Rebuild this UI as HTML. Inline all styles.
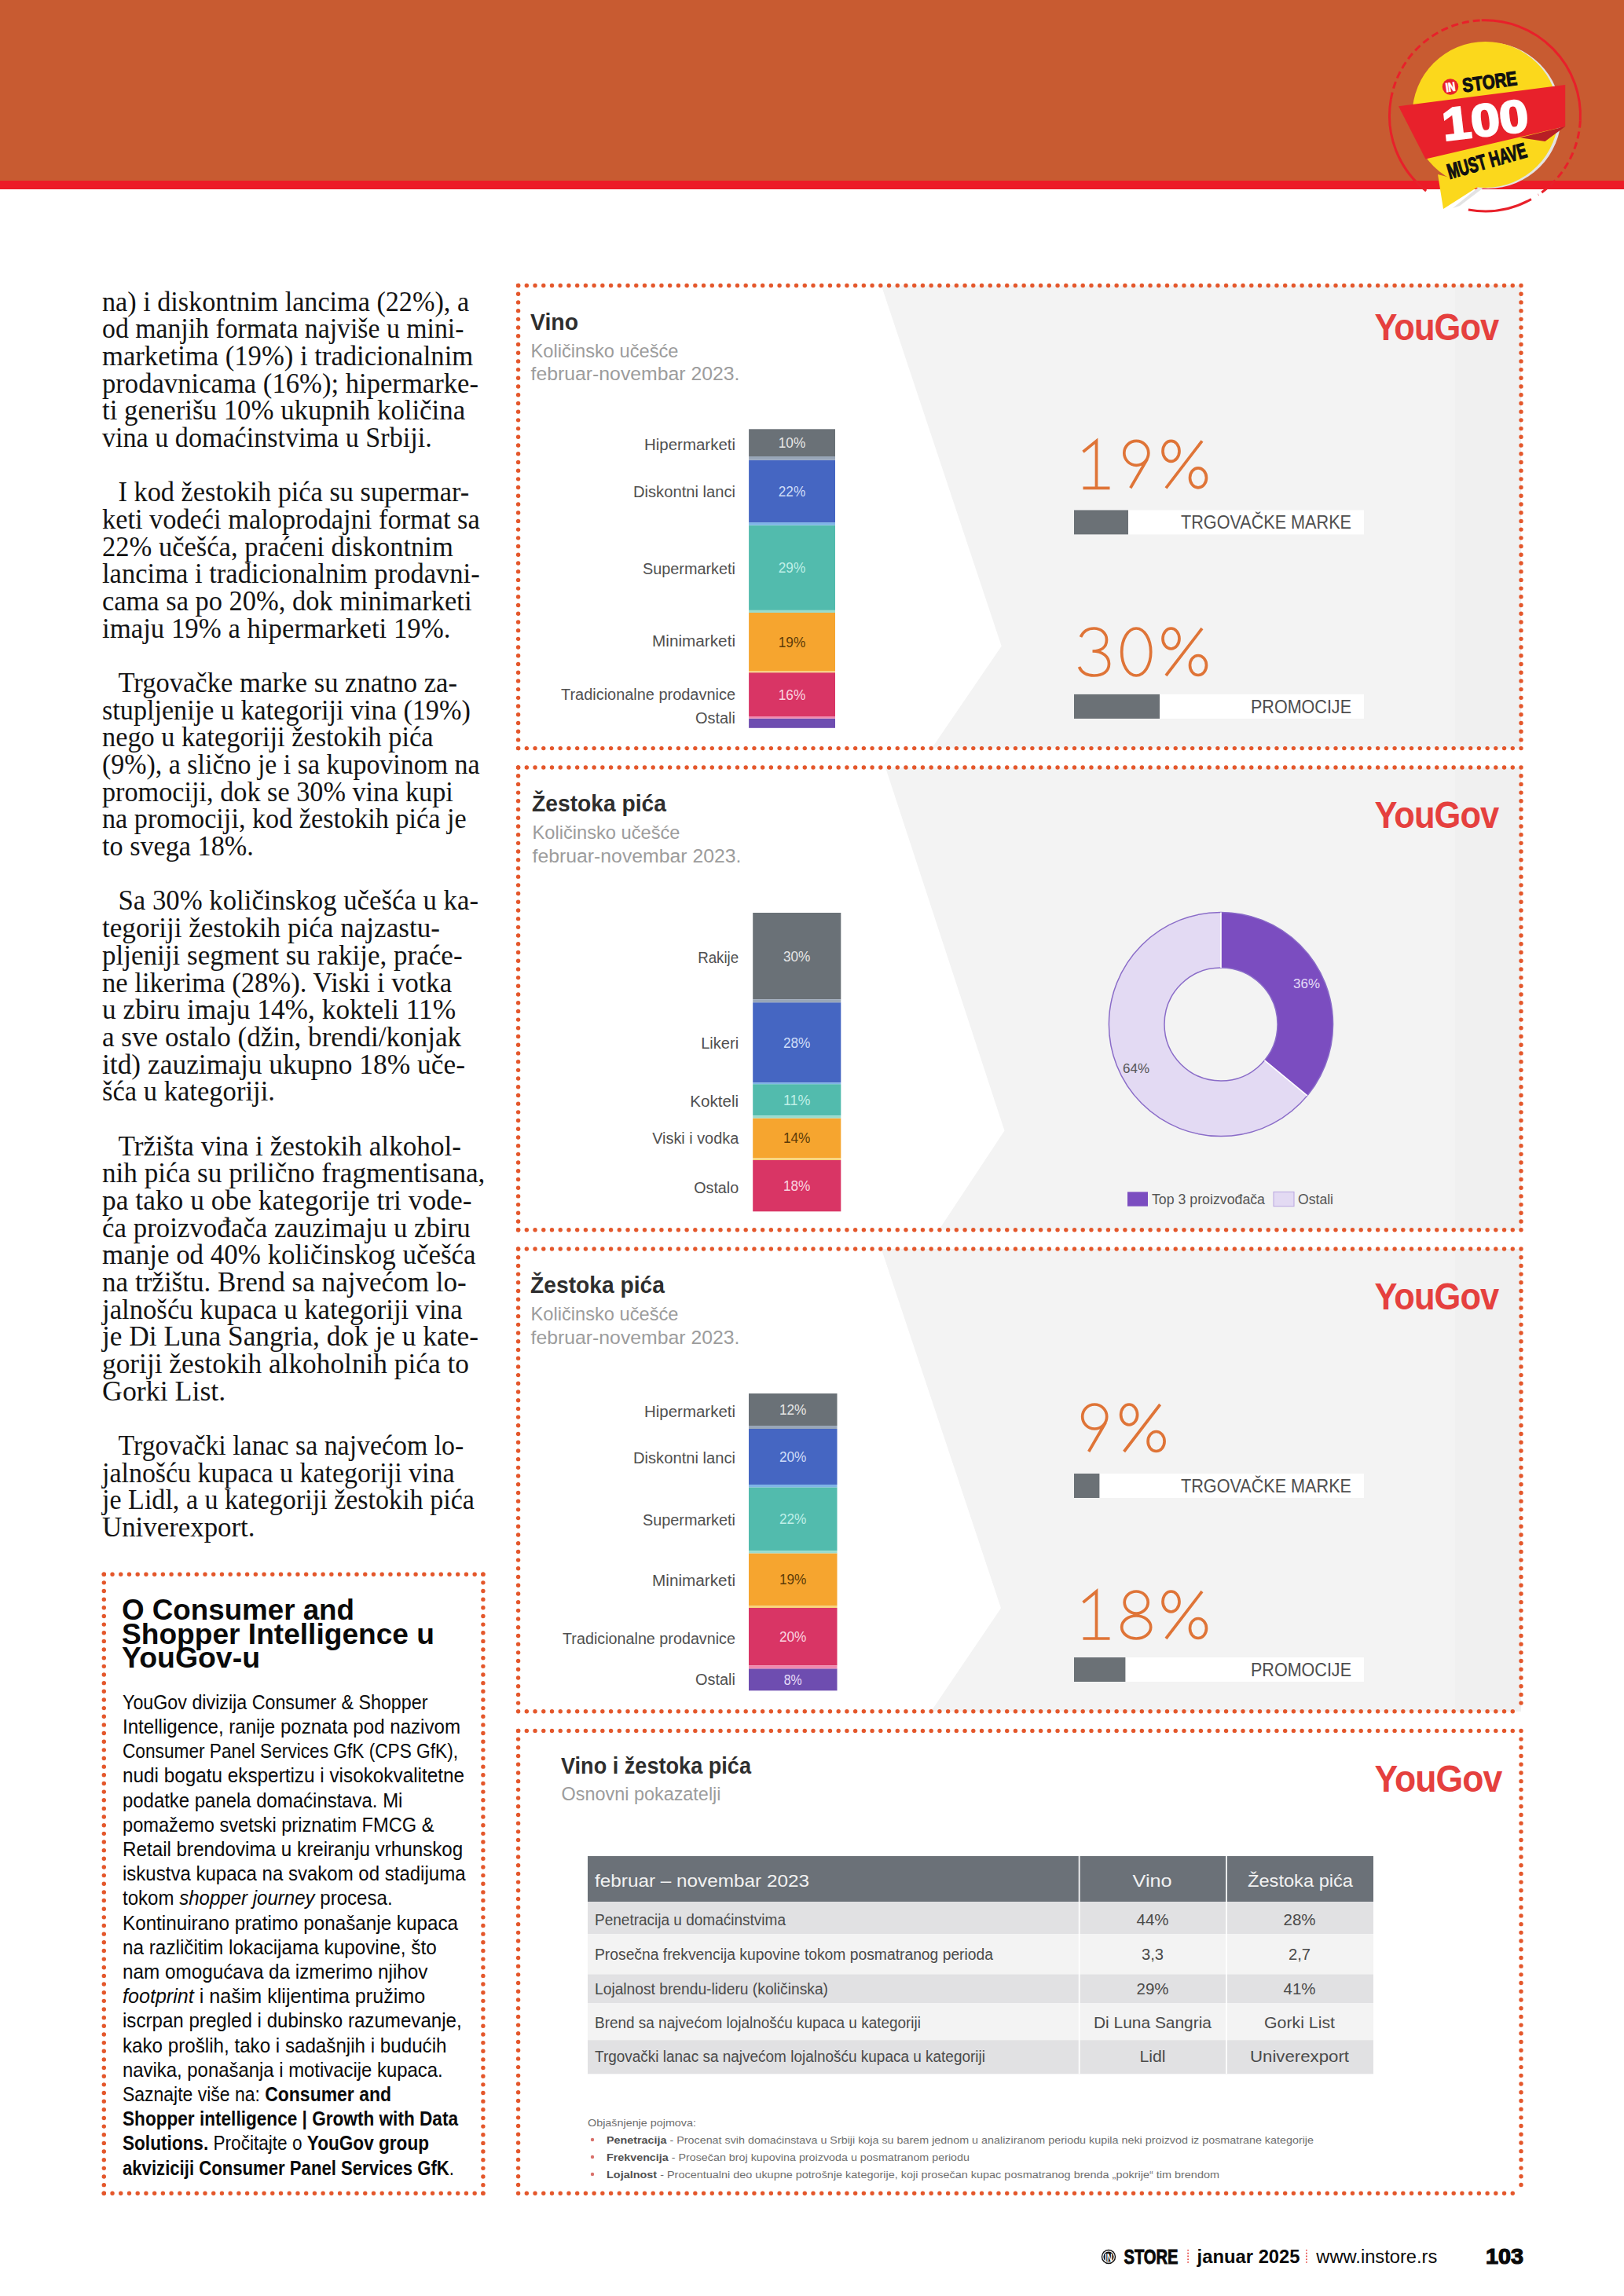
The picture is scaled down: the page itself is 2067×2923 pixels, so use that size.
<!DOCTYPE html>
<html><head><meta charset="utf-8"><title>instore 103</title>
<style>html,body{margin:0;padding:0;background:#fff;}svg{display:block;}</style></head><body>
<svg width="2067" height="2923" viewBox="0 0 2067 2923">
<rect width="2067" height="2923" fill="#FFFFFF"/>
<rect x="0" y="0" width="2067" height="230.5" fill="#C85B31"/>
<rect x="0" y="230" width="2067" height="11" fill="#EC1B27"/>
<path d="M1885.76 25.87A121.5 121.5 0 0 1 2011.33 153.66" stroke="#E8202A" stroke-width="3" fill="none"/>
<path d="M2011.33 153.66A121.5 121.5 0 0 1 1957.94 248.03" stroke="#E8202A" stroke-width="3" fill="none" stroke-dasharray="9 5"/>
<path d="M1948.90 253.57A121.5 121.5 0 0 1 1868.90 266.95" stroke="#E8202A" stroke-width="3" fill="none"/>
<path d="M1815.20 243.04A121.5 121.5 0 0 1 1770.35 126.20" stroke="#E8202A" stroke-width="3" fill="none"/>
<path d="M1770.35 126.20A121.5 121.5 0 0 1 1885.76 25.87" stroke="#E8202A" stroke-width="3" fill="none" stroke-dasharray="9 5"/>
<circle cx="1894" cy="147" r="93" fill="#E3E3E3"/>
<polygon points="1849,265 1881,239 1892,236 1858,262" fill="#E3E3E3"/>
<circle cx="1890.5" cy="146" r="93" fill="#FBD81C"/>
<polygon points="1830,222 1837,266 1884,236" fill="#FBD81C"/>
<polygon points="1780,135.3 1992.2,108 1992.2,160.9 1814.4,202.5" fill="#E8212B"/>
<polygon points="1934.5,175.3 1992.2,160.9 1966.5,180.1" fill="#B81E25"/>
<circle cx="1846" cy="110.5" r="10.2" fill="#E8212B"/>
<text x="1846" y="116.5" font-family="Liberation Sans" font-weight="bold" font-size="16" fill="#fff" stroke="#fff" stroke-width="0.8" text-anchor="middle" transform="rotate(-8 1846 110.5)" textLength="12.5" lengthAdjust="spacingAndGlyphs">IN</text>
<text x="0" y="0" font-family="Liberation Sans" font-weight="bold" font-size="25" fill="#111" stroke="#111" stroke-width="1.2" transform="translate(1862.5 117.5) rotate(-7.8)" textLength="70" lengthAdjust="spacingAndGlyphs">STORE</text>
<text x="0" y="0" font-family="Liberation Sans" font-weight="bold" font-size="58" fill="#fff" stroke="#fff" stroke-width="2.5" transform="translate(1838 179) rotate(-6.7)" textLength="110" lengthAdjust="spacingAndGlyphs">100</text>
<text x="0" y="0" font-family="Liberation Sans" font-weight="bold" font-size="27" fill="#111" stroke="#111" stroke-width="1.3" transform="translate(1845 228) rotate(-15.9)" textLength="104" lengthAdjust="spacingAndGlyphs">MUST HAVE</text>
<polygon points="1121.8,363.5 1936,363.5 1936,952.6 1186,952.6 1274.7,822.6" fill="#F3F3F3"/>
<rect x="1852" y="363.5" width="84" height="589.1" fill="#F0F0F0"/>
<polygon points="1127,977.0 1936,977.0 1936,1565.7 1195,1565.7 1278.5,1439.5" fill="#F3F3F3"/>
<rect x="1852" y="977.0" width="84" height="588.7" fill="#F0F0F0"/>
<polygon points="1121.8,1590.0 1936,1590.0 1936,2178.8 1185,2178.8 1274,2047.2" fill="#F3F3F3"/>
<rect x="1852" y="1590.0" width="84" height="588.8" fill="#F0F0F0"/>
<text x="675.0" y="419.7" font-family="Liberation Sans" font-size="30" fill="#2E2E2E" font-weight="bold" textLength="61.0" lengthAdjust="spacingAndGlyphs">Vino</text>
<text x="675.5" y="454.8" font-family="Liberation Sans" font-size="24.5" fill="#9C9C9C" textLength="188.0" lengthAdjust="spacingAndGlyphs">Količinsko učešće</text>
<text x="675.5" y="484.4" font-family="Liberation Sans" font-size="24.5" fill="#9C9C9C" textLength="266.0" lengthAdjust="spacingAndGlyphs">februar-novembar 2023.</text>
<text x="1749.4" y="433.2" font-family="Liberation Sans" font-size="49" fill="#E5403E" font-weight="bold" textLength="158.0" lengthAdjust="spacingAndGlyphs" letter-spacing="-1">YouGov</text>
<rect x="953.1" y="546.3" width="109.9" height="34.7" fill="#6A7177"/>
<rect x="953.1" y="585.6" width="109.9" height="79.5" fill="#4566C2"/>
<rect x="953.1" y="668.6" width="109.9" height="108.3" fill="#52BBAD"/>
<rect x="953.1" y="780.0" width="109.9" height="74.5" fill="#F6A52F"/>
<rect x="953.1" y="856.2" width="109.9" height="55.8" fill="#D93565"/>
<rect x="953.1" y="914.6" width="109.9" height="12.2" fill="#6E4DB0"/>
<rect x="953.1" y="581.0" width="109.9" height="4.6" fill="#98A6B8"/>
<rect x="953.1" y="665.1" width="109.9" height="3.5" fill="#7FB4E6"/>
<rect x="953.1" y="776.9" width="109.9" height="3.1" fill="#9ADCCD"/>
<rect x="953.1" y="854.5" width="109.9" height="1.7" fill="#F8D27A"/>
<rect x="953.1" y="912.0" width="109.9" height="2.6" fill="#F08AB0"/>
<text x="936.0" y="573.0" font-family="Liberation Sans" font-size="19.5" fill="#505050" text-anchor="end" textLength="116.0" lengthAdjust="spacingAndGlyphs">Hipermarketi</text>
<text x="1008.0" y="570.1" font-family="Liberation Sans" font-size="18" fill="#E6E6E6" text-anchor="middle" textLength="34.5" lengthAdjust="spacingAndGlyphs">10%</text>
<text x="936.0" y="633.0" font-family="Liberation Sans" font-size="19.5" fill="#505050" text-anchor="end" textLength="130.0" lengthAdjust="spacingAndGlyphs">Diskontni lanci</text>
<text x="1008.0" y="631.9" font-family="Liberation Sans" font-size="18" fill="#CFDDF8" text-anchor="middle" textLength="34.5" lengthAdjust="spacingAndGlyphs">22%</text>
<text x="936.0" y="731.2" font-family="Liberation Sans" font-size="19.5" fill="#505050" text-anchor="end" textLength="118.0" lengthAdjust="spacingAndGlyphs">Supermarketi</text>
<text x="1008.0" y="729.2" font-family="Liberation Sans" font-size="18" fill="#BFEFE8" text-anchor="middle" textLength="34.5" lengthAdjust="spacingAndGlyphs">29%</text>
<text x="936.0" y="823.3" font-family="Liberation Sans" font-size="19.5" fill="#505050" text-anchor="end" textLength="106.0" lengthAdjust="spacingAndGlyphs">Minimarketi</text>
<text x="1008.0" y="823.8" font-family="Liberation Sans" font-size="18" fill="#5C3B08" text-anchor="middle" textLength="34.5" lengthAdjust="spacingAndGlyphs">19%</text>
<text x="936.0" y="891.3" font-family="Liberation Sans" font-size="19.5" fill="#505050" text-anchor="end" textLength="222.0" lengthAdjust="spacingAndGlyphs">Tradicionalne prodavnice</text>
<text x="1008.0" y="890.6" font-family="Liberation Sans" font-size="18" fill="#FAD4E0" text-anchor="middle" textLength="34.5" lengthAdjust="spacingAndGlyphs">16%</text>
<text x="936.0" y="921.3" font-family="Liberation Sans" font-size="19.5" fill="#505050" text-anchor="end" textLength="51.0" lengthAdjust="spacingAndGlyphs">Ostali</text>
<path d="M0 -46L17 -60L17 0M0 0L34 0" transform="translate(1378.5 621.3)" fill="none" stroke="#DF7437" stroke-width="3.7" stroke-linecap="butt"/>
<path d="M0 -44.5A15.5 15.5 0 1 0 31 -44.5A15.5 15.5 0 1 0 0 -44.5M29.5 -37L8 0" transform="translate(1430.8 621.3)" fill="none" stroke="#DF7437" stroke-width="3.7" stroke-linecap="butt"/>
<path d="M0 -47A10.5 13 0 1 0 21 -47A10.5 13 0 1 0 0 -47M50 -60L4 0M34.5 -13A10.5 12.5 0 1 0 55.5 -13A10.5 12.5 0 1 0 34.5 -13" transform="translate(1480 621.3)" fill="none" stroke="#DF7437" stroke-width="3.7" stroke-linecap="butt"/>
<rect x="1367" y="649.4" width="369" height="31" fill="#FFFFFF"/>
<rect x="1367" y="649.4" width="69.0" height="31" fill="#6B7176"/>
<text x="1720.0" y="673.4" font-family="Liberation Sans" font-size="23.5" fill="#4E4E4E" text-anchor="end" textLength="217.0" lengthAdjust="spacingAndGlyphs">TRGOVAČKE MARKE</text>
<path d="M2 -49C5 -56 11 -60 19 -60C28 -60 35 -54 35 -45.5C35 -36 28 -31 17 -31M17 -31C30 -31 38 -24 38 -15C38 -5 30 0 19 0C10 0 3 -4 0 -11" transform="translate(1373.5 860)" fill="none" stroke="#DF7437" stroke-width="3.7" stroke-linecap="butt"/>
<path d="M0 -30A18.5 30 0 1 0 37 -30A18.5 30 0 1 0 0 -30" transform="translate(1427.7 860)" fill="none" stroke="#DF7437" stroke-width="3.7" stroke-linecap="butt"/>
<path d="M0 -47A10.5 13 0 1 0 21 -47A10.5 13 0 1 0 0 -47M50 -60L4 0M34.5 -13A10.5 12.5 0 1 0 55.5 -13A10.5 12.5 0 1 0 34.5 -13" transform="translate(1480 860)" fill="none" stroke="#DF7437" stroke-width="3.7" stroke-linecap="butt"/>
<rect x="1367" y="883.9" width="369" height="31" fill="#FFFFFF"/>
<rect x="1367" y="883.9" width="109.0" height="31" fill="#6B7176"/>
<text x="1720.0" y="907.9" font-family="Liberation Sans" font-size="23.5" fill="#4E4E4E" text-anchor="end" textLength="128.0" lengthAdjust="spacingAndGlyphs">PROMOCIJE</text>
<text x="677.0" y="1033.2" font-family="Liberation Sans" font-size="30" fill="#2E2E2E" font-weight="bold" textLength="171.0" lengthAdjust="spacingAndGlyphs">Žestoka pića</text>
<text x="677.5" y="1068.3" font-family="Liberation Sans" font-size="24.5" fill="#9C9C9C" textLength="188.0" lengthAdjust="spacingAndGlyphs">Količinsko učešće</text>
<text x="677.5" y="1097.9" font-family="Liberation Sans" font-size="24.5" fill="#9C9C9C" textLength="266.0" lengthAdjust="spacingAndGlyphs">februar-novembar 2023.</text>
<text x="1749.4" y="1053.6" font-family="Liberation Sans" font-size="49" fill="#E5403E" font-weight="bold" textLength="158.0" lengthAdjust="spacingAndGlyphs" letter-spacing="-1">YouGov</text>
<rect x="958.2" y="1162.0" width="112.1" height="110.2" fill="#6A7177"/>
<rect x="958.2" y="1276.2" width="112.1" height="102.0" fill="#4566C2"/>
<rect x="958.2" y="1380.2" width="112.1" height="40.1" fill="#52BBAD"/>
<rect x="958.2" y="1423.5" width="112.1" height="50.8" fill="#F6A52F"/>
<rect x="958.2" y="1477.0" width="112.1" height="65.3" fill="#D93565"/>
<rect x="958.2" y="1272.2" width="112.1" height="4.0" fill="#98A6B8"/>
<rect x="958.2" y="1378.2" width="112.1" height="2.0" fill="#7FB4E6"/>
<rect x="958.2" y="1420.3" width="112.1" height="3.2" fill="#9ADCCD"/>
<rect x="958.2" y="1474.3" width="112.1" height="2.7" fill="#F8D27A"/>
<text x="940.2" y="1226.4" font-family="Liberation Sans" font-size="19.5" fill="#505050" text-anchor="end" textLength="52.0" lengthAdjust="spacingAndGlyphs">Rakije</text>
<text x="1014.2" y="1223.6" font-family="Liberation Sans" font-size="18" fill="#E6E6E6" text-anchor="middle" textLength="34.5" lengthAdjust="spacingAndGlyphs">30%</text>
<text x="940.2" y="1335.2" font-family="Liberation Sans" font-size="19.5" fill="#505050" text-anchor="end" textLength="48.0" lengthAdjust="spacingAndGlyphs">Likeri</text>
<text x="1014.2" y="1333.7" font-family="Liberation Sans" font-size="18" fill="#CFDDF8" text-anchor="middle" textLength="34.5" lengthAdjust="spacingAndGlyphs">28%</text>
<text x="940.2" y="1409.3" font-family="Liberation Sans" font-size="19.5" fill="#505050" text-anchor="end" textLength="62.0" lengthAdjust="spacingAndGlyphs">Kokteli</text>
<text x="1014.2" y="1406.8" font-family="Liberation Sans" font-size="18" fill="#BFEFE8" text-anchor="middle" textLength="34.5" lengthAdjust="spacingAndGlyphs">11%</text>
<text x="940.2" y="1456.0" font-family="Liberation Sans" font-size="19.5" fill="#505050" text-anchor="end" textLength="110.0" lengthAdjust="spacingAndGlyphs">Viski i vodka</text>
<text x="1014.2" y="1455.4" font-family="Liberation Sans" font-size="18" fill="#5C3B08" text-anchor="middle" textLength="34.5" lengthAdjust="spacingAndGlyphs">14%</text>
<text x="940.2" y="1518.5" font-family="Liberation Sans" font-size="19.5" fill="#505050" text-anchor="end" textLength="57.0" lengthAdjust="spacingAndGlyphs">Ostalo</text>
<text x="1014.2" y="1516.2" font-family="Liberation Sans" font-size="18" fill="#FAD4E0" text-anchor="middle" textLength="34.5" lengthAdjust="spacingAndGlyphs">18%</text>
<circle cx="1554" cy="1304" r="107.3" fill="none" stroke="#E3DAF3" stroke-width="70.6"/>
<path d="M1554.00 1161.40A142.6 142.6 0 0 1 1663.88 1394.90L1609.48 1349.89A72 72 0 0 0 1554.00 1232.00Z" fill="#7B4DC0"/>
<circle cx="1554" cy="1304" r="142.6" fill="none" stroke="#8A6CC8" stroke-width="1.5"/>
<circle cx="1554" cy="1304" r="72" fill="#F3F3F3" stroke="#8A6CC8" stroke-width="1.5"/>
<path d="M1554.00 1232.00L1554.00 1161.40M1609.48 1349.89L1663.88 1394.90" stroke="#FFFFFF" stroke-width="1.6"/>
<text x="1663.0" y="1258.0" font-family="Liberation Sans" font-size="16" fill="#E6DDF8" text-anchor="middle" textLength="34.0" lengthAdjust="spacingAndGlyphs">36%</text>
<text x="1446.0" y="1366.0" font-family="Liberation Sans" font-size="16" fill="#555" text-anchor="middle" textLength="34.0" lengthAdjust="spacingAndGlyphs">64%</text>
<rect x="1435" y="1517.4" width="26" height="18.3" fill="#7B4DC0"/>
<text x="1466.0" y="1533.0" font-family="Liberation Sans" font-size="17.5" fill="#555" textLength="144.0" lengthAdjust="spacingAndGlyphs">Top 3 proizvođača</text>
<rect x="1621" y="1517.4" width="26" height="18.3" fill="#E3DAF3" stroke="#B9A6E0" stroke-width="1"/>
<text x="1652.0" y="1533.0" font-family="Liberation Sans" font-size="17.5" fill="#555" textLength="45.0" lengthAdjust="spacingAndGlyphs">Ostali</text>
<text x="675.0" y="1646.2" font-family="Liberation Sans" font-size="30" fill="#2E2E2E" font-weight="bold" textLength="171.0" lengthAdjust="spacingAndGlyphs">Žestoka pića</text>
<text x="675.5" y="1681.3" font-family="Liberation Sans" font-size="24.5" fill="#9C9C9C" textLength="188.0" lengthAdjust="spacingAndGlyphs">Količinsko učešće</text>
<text x="675.5" y="1710.9" font-family="Liberation Sans" font-size="24.5" fill="#9C9C9C" textLength="266.0" lengthAdjust="spacingAndGlyphs">februar-novembar 2023.</text>
<text x="1749.4" y="1666.6" font-family="Liberation Sans" font-size="49" fill="#E5403E" font-weight="bold" textLength="158.0" lengthAdjust="spacingAndGlyphs" letter-spacing="-1">YouGov</text>
<rect x="953.0" y="1774.0" width="112.5" height="41.0" fill="#6A7177"/>
<rect x="953.0" y="1819.0" width="112.5" height="71.0" fill="#4566C2"/>
<rect x="953.0" y="1893.4" width="112.5" height="80.8" fill="#52BBAD"/>
<rect x="953.0" y="1977.4" width="112.5" height="66.9" fill="#F6A52F"/>
<rect x="953.0" y="2047.0" width="112.5" height="73.3" fill="#D93565"/>
<rect x="953.0" y="2124.3" width="112.5" height="28.0" fill="#6E4DB0"/>
<rect x="953.0" y="1815.0" width="112.5" height="4.0" fill="#98A6B8"/>
<rect x="953.0" y="1890.0" width="112.5" height="3.4" fill="#7FB4E6"/>
<rect x="953.0" y="1974.2" width="112.5" height="3.2" fill="#9ADCCD"/>
<rect x="953.0" y="2044.3" width="112.5" height="2.7" fill="#F8D27A"/>
<rect x="953.0" y="2120.3" width="112.5" height="4.0" fill="#F08AB0"/>
<text x="936.0" y="1804.3" font-family="Liberation Sans" font-size="19.5" fill="#505050" text-anchor="end" textLength="116.0" lengthAdjust="spacingAndGlyphs">Hipermarketi</text>
<text x="1009.2" y="1801.0" font-family="Liberation Sans" font-size="18" fill="#E6E6E6" text-anchor="middle" textLength="34.5" lengthAdjust="spacingAndGlyphs">12%</text>
<text x="936.0" y="1863.2" font-family="Liberation Sans" font-size="19.5" fill="#505050" text-anchor="end" textLength="130.0" lengthAdjust="spacingAndGlyphs">Diskontni lanci</text>
<text x="1009.2" y="1861.0" font-family="Liberation Sans" font-size="18" fill="#CFDDF8" text-anchor="middle" textLength="34.5" lengthAdjust="spacingAndGlyphs">20%</text>
<text x="936.0" y="1942.0" font-family="Liberation Sans" font-size="19.5" fill="#505050" text-anchor="end" textLength="118.0" lengthAdjust="spacingAndGlyphs">Supermarketi</text>
<text x="1009.2" y="1940.3" font-family="Liberation Sans" font-size="18" fill="#BFEFE8" text-anchor="middle" textLength="34.5" lengthAdjust="spacingAndGlyphs">22%</text>
<text x="936.0" y="2019.3" font-family="Liberation Sans" font-size="19.5" fill="#505050" text-anchor="end" textLength="106.0" lengthAdjust="spacingAndGlyphs">Minimarketi</text>
<text x="1009.2" y="2017.3" font-family="Liberation Sans" font-size="18" fill="#5C3B08" text-anchor="middle" textLength="34.5" lengthAdjust="spacingAndGlyphs">19%</text>
<text x="936.0" y="2093.3" font-family="Liberation Sans" font-size="19.5" fill="#505050" text-anchor="end" textLength="220.0" lengthAdjust="spacingAndGlyphs">Tradicionalne prodavnice</text>
<text x="1009.2" y="2090.2" font-family="Liberation Sans" font-size="18" fill="#FAD4E0" text-anchor="middle" textLength="34.5" lengthAdjust="spacingAndGlyphs">20%</text>
<text x="936.0" y="2145.3" font-family="Liberation Sans" font-size="19.5" fill="#505050" text-anchor="end" textLength="51.0" lengthAdjust="spacingAndGlyphs">Ostali</text>
<text x="1009.2" y="2144.8" font-family="Liberation Sans" font-size="18" fill="#E6DDF8" text-anchor="middle" textLength="23.0" lengthAdjust="spacingAndGlyphs">8%</text>
<path d="M0 -44.5A15.5 15.5 0 1 0 31 -44.5A15.5 15.5 0 1 0 0 -44.5M29.5 -37L8 0" transform="translate(1377.7 1848)" fill="none" stroke="#DF7437" stroke-width="3.7" stroke-linecap="butt"/>
<path d="M0 -47A10.5 13 0 1 0 21 -47A10.5 13 0 1 0 0 -47M50 -60L4 0M34.5 -13A10.5 12.5 0 1 0 55.5 -13A10.5 12.5 0 1 0 34.5 -13" transform="translate(1426.6 1848)" fill="none" stroke="#DF7437" stroke-width="3.7" stroke-linecap="butt"/>
<rect x="1367" y="1876.0" width="369" height="31" fill="#FFFFFF"/>
<rect x="1367" y="1876.0" width="32.4" height="31" fill="#6B7176"/>
<text x="1720.0" y="1900.0" font-family="Liberation Sans" font-size="23.5" fill="#4E4E4E" text-anchor="end" textLength="217.0" lengthAdjust="spacingAndGlyphs">TRGOVAČKE MARKE</text>
<path d="M0 -46L17 -60L17 0M0 0L34 0" transform="translate(1378.5 2086)" fill="none" stroke="#DF7437" stroke-width="3.7" stroke-linecap="butt"/>
<path d="M2 -46A15 14 0 1 0 32 -46A15 14 0 1 0 2 -46M-1.5 -14.5A18.5 14.5 0 1 0 35.5 -14.5A18.5 14.5 0 1 0 -1.5 -14.5" transform="translate(1429.2 2086)" fill="none" stroke="#DF7437" stroke-width="3.7" stroke-linecap="butt"/>
<path d="M0 -47A10.5 13 0 1 0 21 -47A10.5 13 0 1 0 0 -47M50 -60L4 0M34.5 -13A10.5 12.5 0 1 0 55.5 -13A10.5 12.5 0 1 0 34.5 -13" transform="translate(1480 2086)" fill="none" stroke="#DF7437" stroke-width="3.7" stroke-linecap="butt"/>
<rect x="1367" y="2110.0" width="369" height="31" fill="#FFFFFF"/>
<rect x="1367" y="2110.0" width="65.4" height="31" fill="#6B7176"/>
<text x="1720.0" y="2134.0" font-family="Liberation Sans" font-size="23.5" fill="#4E4E4E" text-anchor="end" textLength="128.0" lengthAdjust="spacingAndGlyphs">PROMOCIJE</text>
<path d="M659.60 363.50L1936.00 363.50" stroke="#E4572B" stroke-width="5.40" stroke-linecap="round" stroke-dasharray="0 10.7261" fill="none"/>
<path d="M659.60 952.60L1936.00 952.60" stroke="#E4572B" stroke-width="5.40" stroke-linecap="round" stroke-dasharray="0 10.7261" fill="none"/>
<path d="M659.60 363.50L659.60 952.60" stroke="#E4572B" stroke-width="5.40" stroke-linecap="round" stroke-dasharray="0 10.7109" fill="none"/>
<path d="M1936.00 363.50L1936.00 952.60" stroke="#E4572B" stroke-width="5.40" stroke-linecap="round" stroke-dasharray="0 10.7109" fill="none"/>
<path d="M659.60 977.00L1936.00 977.00" stroke="#E4572B" stroke-width="5.40" stroke-linecap="round" stroke-dasharray="0 10.7261" fill="none"/>
<path d="M659.60 1565.70L1936.00 1565.70" stroke="#E4572B" stroke-width="5.40" stroke-linecap="round" stroke-dasharray="0 10.7261" fill="none"/>
<path d="M659.60 977.00L659.60 1565.70" stroke="#E4572B" stroke-width="5.40" stroke-linecap="round" stroke-dasharray="0 10.7036" fill="none"/>
<path d="M1936.00 977.00L1936.00 1565.70" stroke="#E4572B" stroke-width="5.40" stroke-linecap="round" stroke-dasharray="0 10.7036" fill="none"/>
<path d="M659.60 1590.00L1936.00 1590.00" stroke="#E4572B" stroke-width="5.40" stroke-linecap="round" stroke-dasharray="0 10.7261" fill="none"/>
<path d="M659.60 2178.80L1936.00 2178.80" stroke="#E4572B" stroke-width="5.40" stroke-linecap="round" stroke-dasharray="0 10.7261" fill="none"/>
<path d="M659.60 1590.00L659.60 2178.80" stroke="#E4572B" stroke-width="5.40" stroke-linecap="round" stroke-dasharray="0 10.7055" fill="none"/>
<path d="M1936.00 1590.00L1936.00 2178.80" stroke="#E4572B" stroke-width="5.40" stroke-linecap="round" stroke-dasharray="0 10.7055" fill="none"/>
<path d="M659.60 2203.40L1936.00 2203.40" stroke="#E4572B" stroke-width="5.40" stroke-linecap="round" stroke-dasharray="0 10.7261" fill="none"/>
<path d="M659.60 2792.20L1936.00 2792.20" stroke="#E4572B" stroke-width="5.40" stroke-linecap="round" stroke-dasharray="0 10.7261" fill="none"/>
<path d="M659.60 2203.40L659.60 2792.20" stroke="#E4572B" stroke-width="5.40" stroke-linecap="round" stroke-dasharray="0 10.7055" fill="none"/>
<path d="M1936.00 2203.40L1936.00 2792.20" stroke="#E4572B" stroke-width="5.40" stroke-linecap="round" stroke-dasharray="0 10.7055" fill="none"/>
<g font-family="Liberation Serif" font-size="35.8" fill="#141414">
<text x="130" y="395.7" textLength="467.1" lengthAdjust="spacingAndGlyphs">na) i diskontnim lancima (22%), a</text>
<text x="130" y="430.4" textLength="460.4" lengthAdjust="spacingAndGlyphs">od manjih formata najviše u mini-</text>
<text x="130" y="465.0" textLength="472.2" lengthAdjust="spacingAndGlyphs">marketima (19%) i tradicionalnim</text>
<text x="130" y="499.7" textLength="479.0" lengthAdjust="spacingAndGlyphs">prodavnicama (16%); hipermarke-</text>
<text x="130" y="534.4" textLength="462.1" lengthAdjust="spacingAndGlyphs">ti generišu 10% ukupnih količina</text>
<text x="130" y="569.0" textLength="419.7" lengthAdjust="spacingAndGlyphs">vina u domaćinstvima u Srbiji.</text>
<text x="150.5" y="638.4" textLength="446.6" lengthAdjust="spacingAndGlyphs">I kod žestokih pića su supermar-</text>
<text x="130" y="673.1" textLength="480.7" lengthAdjust="spacingAndGlyphs">keti vodeći maloprodajni format sa</text>
<text x="130" y="707.7" textLength="446.8" lengthAdjust="spacingAndGlyphs">22% učešća, praćeni diskontnim</text>
<text x="130" y="742.4" textLength="480.7" lengthAdjust="spacingAndGlyphs">lancima i tradicionalnim prodavni-</text>
<text x="130" y="777.1" textLength="470.5" lengthAdjust="spacingAndGlyphs">cama sa po 20%, dok minimarketi</text>
<text x="130" y="811.7" textLength="443.4" lengthAdjust="spacingAndGlyphs">imaju 19% a hipermarketi 19%.</text>
<text x="150.5" y="881.1" textLength="431.4" lengthAdjust="spacingAndGlyphs">Trgovačke marke su znatno za-</text>
<text x="130" y="915.8" textLength="468.8" lengthAdjust="spacingAndGlyphs">stupljenije u kategoriji vina (19%)</text>
<text x="130" y="950.4" textLength="421.4" lengthAdjust="spacingAndGlyphs">nego u kategoriji žestokih pića</text>
<text x="130" y="985.1" textLength="480.6" lengthAdjust="spacingAndGlyphs">(9%), a slično je i sa kupovinom na</text>
<text x="130" y="1019.8" textLength="446.8" lengthAdjust="spacingAndGlyphs">promociji, dok se 30% vina kupi</text>
<text x="130" y="1054.4" textLength="463.7" lengthAdjust="spacingAndGlyphs">na promociji, kod žestokih pića je</text>
<text x="130" y="1089.1" textLength="192.8" lengthAdjust="spacingAndGlyphs">to svega 18%.</text>
<text x="150.5" y="1158.4" textLength="458.5" lengthAdjust="spacingAndGlyphs">Sa 30% količinskog učešća u ka-</text>
<text x="130" y="1193.1" textLength="429.9" lengthAdjust="spacingAndGlyphs">tegoriji žestokih pića najzastu-</text>
<text x="130" y="1227.8" textLength="458.6" lengthAdjust="spacingAndGlyphs">pljeniji segment su rakije, praće-</text>
<text x="130" y="1262.5" textLength="445.0" lengthAdjust="spacingAndGlyphs">ne likerima (28%). Viski i votka</text>
<text x="130" y="1297.1" textLength="450.2" lengthAdjust="spacingAndGlyphs">u zbiru imaju 14%, kokteli 11%</text>
<text x="130" y="1331.8" textLength="457.0" lengthAdjust="spacingAndGlyphs">a sve ostalo (džin, brendi/konjak</text>
<text x="130" y="1366.5" textLength="462.0" lengthAdjust="spacingAndGlyphs">itd) zauzimaju ukupno 18% uče-</text>
<text x="130" y="1401.1" textLength="219.9" lengthAdjust="spacingAndGlyphs">šća u kategoriji.</text>
<text x="150.5" y="1470.5" textLength="436.5" lengthAdjust="spacingAndGlyphs">Tržišta vina i žestokih alkohol-</text>
<text x="130" y="1505.1" textLength="487.4" lengthAdjust="spacingAndGlyphs">nih pića su prilično fragmentisana,</text>
<text x="130" y="1539.8" textLength="470.5" lengthAdjust="spacingAndGlyphs">pa tako u obe kategorije tri vode-</text>
<text x="130" y="1574.5" textLength="468.8" lengthAdjust="spacingAndGlyphs">ća proizvođača zauzimaju u zbiru</text>
<text x="130" y="1609.2" textLength="475.6" lengthAdjust="spacingAndGlyphs">manje od 40% količinskog učešća</text>
<text x="130" y="1643.8" textLength="463.7" lengthAdjust="spacingAndGlyphs">na tržištu. Brend sa najvećom lo-</text>
<text x="130" y="1678.5" textLength="458.6" lengthAdjust="spacingAndGlyphs">jalnošću kupaca u kategoriji vina</text>
<text x="130" y="1713.2" textLength="479.0" lengthAdjust="spacingAndGlyphs">je Di Luna Sangria, dok je u kate-</text>
<text x="130" y="1747.8" textLength="467.0" lengthAdjust="spacingAndGlyphs">goriji žestokih alkoholnih pića to</text>
<text x="130" y="1782.5" textLength="157.3" lengthAdjust="spacingAndGlyphs">Gorki List.</text>
<text x="150.5" y="1851.8" textLength="439.8" lengthAdjust="spacingAndGlyphs">Trgovački lanac sa najvećom lo-</text>
<text x="130" y="1886.5" textLength="448.5" lengthAdjust="spacingAndGlyphs">jalnošću kupaca u kategoriji vina</text>
<text x="130" y="1921.2" textLength="473.9" lengthAdjust="spacingAndGlyphs">je Lidl, a u kategoriji žestokih pića</text>
<text x="130" y="1955.9" textLength="194.5" lengthAdjust="spacingAndGlyphs">Univerexport.</text>
</g>
<path d="M132.30 2004.20L614.90 2004.20" stroke="#E4572B" stroke-width="5.40" stroke-linecap="round" stroke-dasharray="0 10.7244" fill="none"/>
<path d="M132.30 2792.30L614.90 2792.30" stroke="#E4572B" stroke-width="5.40" stroke-linecap="round" stroke-dasharray="0 10.7244" fill="none"/>
<path d="M132.30 2004.20L132.30 2792.30" stroke="#E4572B" stroke-width="5.40" stroke-linecap="round" stroke-dasharray="0 10.6500" fill="none"/>
<path d="M614.90 2004.20L614.90 2792.30" stroke="#E4572B" stroke-width="5.40" stroke-linecap="round" stroke-dasharray="0 10.6500" fill="none"/>
<g font-family="Liberation Sans" font-weight="bold" font-size="36.5" fill="#0a0a0a">
<text x="155" y="2062" textLength="296" lengthAdjust="spacingAndGlyphs">O Consumer and</text>
<text x="155" y="2092.5" textLength="398" lengthAdjust="spacingAndGlyphs">Shopper Intelligence u</text>
<text x="155" y="2123" textLength="176" lengthAdjust="spacingAndGlyphs">YouGov-u</text>
</g>
<g font-family="Liberation Sans" font-size="26.5" fill="#0a0a0a">
<text x="156" y="2175.7" textLength="388.4" lengthAdjust="spacingAndGlyphs">YouGov divizija Consumer &amp; Shopper</text>
<text x="156" y="2206.9" textLength="430.0" lengthAdjust="spacingAndGlyphs">Intelligence, ranije poznata pod nazivom</text>
<text x="156" y="2238.1" textLength="427.0" lengthAdjust="spacingAndGlyphs">Consumer Panel Services GfK (CPS GfK),</text>
<text x="156" y="2269.3" textLength="435.0" lengthAdjust="spacingAndGlyphs">nudi bogatu ekspertizu i visokokvalitetne</text>
<text x="156" y="2300.5" textLength="356.4" lengthAdjust="spacingAndGlyphs">podatke panela domaćinstava. Mi</text>
<text x="156" y="2331.7" textLength="396.5" lengthAdjust="spacingAndGlyphs">pomažemo svetski priznatim FMCG &amp;</text>
<text x="156" y="2362.9" textLength="433.3" lengthAdjust="spacingAndGlyphs">Retail brendovima u kreiranju vrhunskog</text>
<text x="156" y="2394.1" textLength="436.5" lengthAdjust="spacingAndGlyphs">iskustva kupaca na svakom od stadijuma</text>
<text x="156" y="2425.3" textLength="343.6" lengthAdjust="spacingAndGlyphs">tokom <tspan font-style="italic">shopper journey</tspan> procesa.</text>
<text x="156" y="2456.5" textLength="427.0" lengthAdjust="spacingAndGlyphs">Kontinuirano pratimo ponašanje kupaca</text>
<text x="156" y="2487.7" textLength="399.7" lengthAdjust="spacingAndGlyphs">na različitim lokacijama kupovine, što</text>
<text x="156" y="2518.9" textLength="388.4" lengthAdjust="spacingAndGlyphs">nam omogućava da izmerimo njihov</text>
<text x="156" y="2550.1" textLength="385.2" lengthAdjust="spacingAndGlyphs"><tspan font-style="italic">footprint</tspan> i našim klijentima pružimo</text>
<text x="156" y="2581.3" textLength="431.7" lengthAdjust="spacingAndGlyphs">iscrpan pregled i dubinsko razumevanje,</text>
<text x="156" y="2612.5" textLength="412.5" lengthAdjust="spacingAndGlyphs">kako prošlih, tako i sadašnjih i budućih</text>
<text x="156" y="2643.7" textLength="407.7" lengthAdjust="spacingAndGlyphs">navika, ponašanja i motivacije kupaca.</text>
<text x="156" y="2674.9" textLength="342.0" lengthAdjust="spacingAndGlyphs">Saznajte više na: <tspan font-weight="bold">Consumer and</tspan></text>
<text x="156" y="2706.1" textLength="427.0" lengthAdjust="spacingAndGlyphs"><tspan font-weight="bold">Shopper intelligence | Growth with Data</tspan></text>
<text x="156" y="2737.3" textLength="390.0" lengthAdjust="spacingAndGlyphs"><tspan font-weight="bold">Solutions.</tspan> Pročitajte o <tspan font-weight="bold">YouGov group</tspan></text>
<text x="156" y="2768.5" textLength="422.0" lengthAdjust="spacingAndGlyphs"><tspan font-weight="bold">akviziciji Consumer Panel Services GfK</tspan>.</text>
</g>
<text x="714.0" y="2258.0" font-family="Liberation Sans" font-size="30" fill="#2E2E2E" font-weight="bold" textLength="242.0" lengthAdjust="spacingAndGlyphs">Vino i žestoka pića</text>
<text x="714.5" y="2292.0" font-family="Liberation Sans" font-size="24.5" fill="#9C9C9C" textLength="203.0" lengthAdjust="spacingAndGlyphs">Osnovni pokazatelji</text>
<text x="1749.4" y="2280.7" font-family="Liberation Sans" font-size="49" fill="#E5403E" font-weight="bold" textLength="162.0" lengthAdjust="spacingAndGlyphs" letter-spacing="-1">YouGov</text>
<rect x="748" y="2363" width="1000" height="58" fill="#6B7178"/>
<rect x="748" y="2421.0" width="1000" height="41.2" fill="#E1E1E3"/>
<text x="757.0" y="2450.6" font-family="Liberation Sans" font-size="19.5" fill="#4A4A4A" textLength="243.0" lengthAdjust="spacingAndGlyphs">Penetracija u domaćinstvima</text>
<text x="1467.0" y="2450.6" font-family="Liberation Sans" font-size="20.5" fill="#4A4A4A" text-anchor="middle" textLength="41.0" lengthAdjust="spacingAndGlyphs">44%</text>
<text x="1654.0" y="2450.6" font-family="Liberation Sans" font-size="20.5" fill="#4A4A4A" text-anchor="middle" textLength="41.0" lengthAdjust="spacingAndGlyphs">28%</text>
<rect x="748" y="2462.2" width="1000" height="51.2" fill="#F3F3F3"/>
<text x="757.0" y="2495.0" font-family="Liberation Sans" font-size="19.5" fill="#4A4A4A" textLength="507.0" lengthAdjust="spacingAndGlyphs">Prosečna frekvencija kupovine tokom posmatranog perioda</text>
<text x="1467.0" y="2495.0" font-family="Liberation Sans" font-size="20.5" fill="#4A4A4A" text-anchor="middle" textLength="28.0" lengthAdjust="spacingAndGlyphs">3,3</text>
<text x="1654.0" y="2495.0" font-family="Liberation Sans" font-size="20.5" fill="#4A4A4A" text-anchor="middle" textLength="28.0" lengthAdjust="spacingAndGlyphs">2,7</text>
<rect x="748" y="2513.4" width="1000" height="37.0" fill="#E1E1E3"/>
<text x="757.0" y="2539.3" font-family="Liberation Sans" font-size="19.5" fill="#4A4A4A" textLength="297.0" lengthAdjust="spacingAndGlyphs">Lojalnost brendu-lideru (količinska)</text>
<text x="1467.0" y="2539.3" font-family="Liberation Sans" font-size="20.5" fill="#4A4A4A" text-anchor="middle" textLength="41.0" lengthAdjust="spacingAndGlyphs">29%</text>
<text x="1654.0" y="2539.3" font-family="Liberation Sans" font-size="20.5" fill="#4A4A4A" text-anchor="middle" textLength="41.0" lengthAdjust="spacingAndGlyphs">41%</text>
<rect x="748" y="2550.4" width="1000" height="46.8" fill="#F3F3F3"/>
<text x="757.0" y="2581.5" font-family="Liberation Sans" font-size="19.5" fill="#4A4A4A" textLength="415.0" lengthAdjust="spacingAndGlyphs">Brend sa najvećom lojalnošću kupaca u kategoriji</text>
<text x="1467.0" y="2581.5" font-family="Liberation Sans" font-size="20.5" fill="#4A4A4A" text-anchor="middle" textLength="150.0" lengthAdjust="spacingAndGlyphs">Di Luna Sangria</text>
<text x="1654.0" y="2581.5" font-family="Liberation Sans" font-size="20.5" fill="#4A4A4A" text-anchor="middle" textLength="90.0" lengthAdjust="spacingAndGlyphs">Gorki List</text>
<rect x="748" y="2597.2" width="1000" height="43.1" fill="#E1E1E3"/>
<text x="757.0" y="2624.8" font-family="Liberation Sans" font-size="19.5" fill="#4A4A4A" textLength="497.0" lengthAdjust="spacingAndGlyphs">Trgovački lanac sa najvećom lojalnošću kupaca u kategoriji</text>
<text x="1467.0" y="2624.8" font-family="Liberation Sans" font-size="20.5" fill="#4A4A4A" text-anchor="middle" textLength="33.0" lengthAdjust="spacingAndGlyphs">Lidl</text>
<text x="1654.0" y="2624.8" font-family="Liberation Sans" font-size="20.5" fill="#4A4A4A" text-anchor="middle" textLength="126.0" lengthAdjust="spacingAndGlyphs">Univerexport</text>
<rect x="1372.7" y="2363" width="2" height="277" fill="#FFFFFF" opacity="0.85"/>
<rect x="1560" y="2363" width="2" height="277" fill="#FFFFFF" opacity="0.85"/>
<text x="757.0" y="2402.0" font-family="Liberation Sans" font-size="22.5" fill="#F2F2F2" textLength="273.0" lengthAdjust="spacingAndGlyphs">februar – novembar 2023</text>
<text x="1466.6" y="2402.0" font-family="Liberation Sans" font-size="22.5" fill="#F2F2F2" text-anchor="middle" textLength="50.0" lengthAdjust="spacingAndGlyphs">Vino</text>
<text x="1655.0" y="2402.0" font-family="Liberation Sans" font-size="22.5" fill="#F2F2F2" text-anchor="middle" textLength="134.0" lengthAdjust="spacingAndGlyphs">Žestoka pića</text>
<text x="748.0" y="2706.5" font-family="Liberation Sans" font-size="13.5" fill="#6E6E6E" textLength="138.0" lengthAdjust="spacingAndGlyphs">Objašnjenje pojmova:</text>
<circle cx="754" cy="2724.0" r="2.2" fill="#D9706A"/>
<text x="772" y="2728.5" font-family="Liberation Sans" font-size="13.5" fill="#6E6E6E" textLength="900" lengthAdjust="spacingAndGlyphs"><tspan font-weight="bold" fill="#505050">Penetracija</tspan> - Procenat svih domaćinstava u Srbiji koja su barem jednom u analiziranom periodu kupila neki proizvod iz posmatrane kategorije</text>
<circle cx="754" cy="2746.0" r="2.2" fill="#D9706A"/>
<text x="772" y="2750.5" font-family="Liberation Sans" font-size="13.5" fill="#6E6E6E" textLength="462" lengthAdjust="spacingAndGlyphs"><tspan font-weight="bold" fill="#505050">Frekvencija</tspan> - Prosečan broj kupovina proizvoda u posmatranom periodu</text>
<circle cx="754" cy="2768.0" r="2.2" fill="#D9706A"/>
<text x="772" y="2772.5" font-family="Liberation Sans" font-size="13.5" fill="#6E6E6E" textLength="780" lengthAdjust="spacingAndGlyphs"><tspan font-weight="bold" fill="#505050">Lojalnost</tspan> - Procentualni deo ukupne potrošnje kategorije, koji prosečan kupac posmatranog brenda „pokrije“ tim brendom</text>
<circle cx="1411" cy="2873" r="9.2" fill="#111"/>
<circle cx="1411" cy="2873" r="7.2" fill="none" stroke="#fff" stroke-width="1.2"/>
<text x="1411" y="2878.5" font-family="Liberation Sans" font-weight="bold" font-size="14" fill="#fff" text-anchor="middle" textLength="10" lengthAdjust="spacingAndGlyphs">IN</text>
<text x="1430.5" y="2882.0" font-family="Liberation Sans" font-size="25" fill="#0a0a0a" font-weight="bold" textLength="69.0" lengthAdjust="spacingAndGlyphs" stroke="#0a0a0a" stroke-width="0.9">STORE</text>
<path d="M1512.1 2864L1512.1 2882" stroke="#E53935" stroke-width="1.6" stroke-dasharray="1.6 2.2"/>
<text x="1523.6" y="2880.5" font-family="Liberation Sans" font-size="23" fill="#0a0a0a" font-weight="bold" textLength="131.0" lengthAdjust="spacingAndGlyphs">januar 2025</text>
<path d="M1662.9 2864L1662.9 2882" stroke="#E53935" stroke-width="1.6" stroke-dasharray="1.6 2.2"/>
<text x="1675.3" y="2880.5" font-family="Liberation Sans" font-size="23" fill="#0a0a0a" textLength="154.0" lengthAdjust="spacingAndGlyphs">www.instore.rs</text>
<text x="1891.0" y="2882.0" font-family="Liberation Sans" font-size="27" fill="#0a0a0a" font-weight="bold" textLength="48.0" lengthAdjust="spacingAndGlyphs" stroke="#0a0a0a" stroke-width="1.2">103</text>
</svg></body></html>
